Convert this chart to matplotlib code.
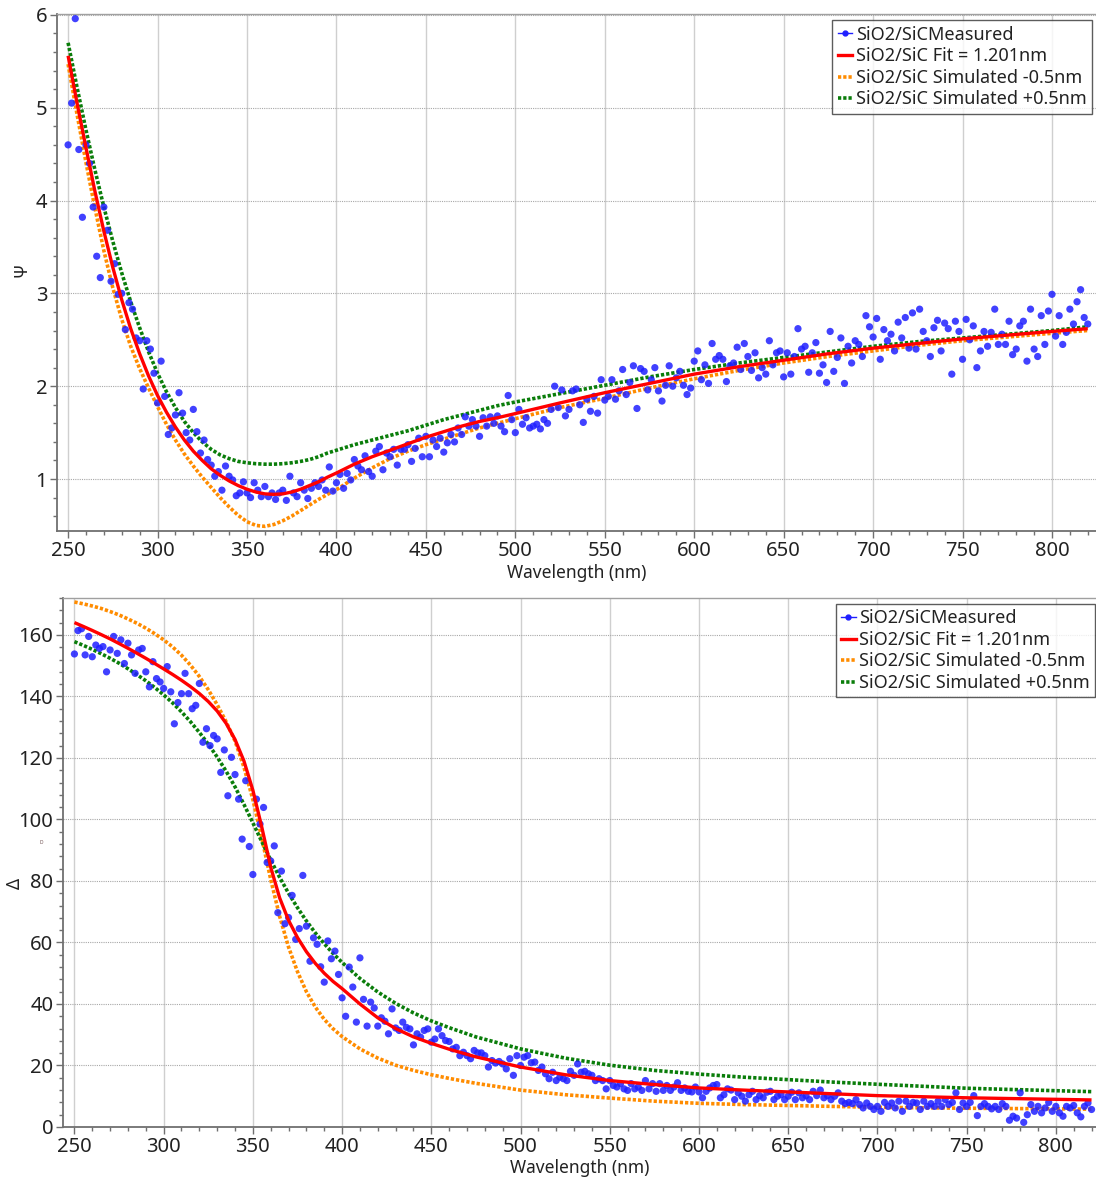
import numpy as np
import matplotlib
matplotlib.use("Agg")
import matplotlib.pyplot as plt
from matplotlib.lines import Line2D
from matplotlib.ticker import MultipleLocator

plt.rcParams['font.family'] = ['Noto Sans', 'DejaVu Sans']

# ---------------- data ----------------
meas_start, meas_step = 250, 2

psi_measured = [
    4.60, 5.05, 5.96, 4.55, 3.82, 4.60, 4.40, 3.93, 3.40, 3.17, 3.93, 3.68, 3.13, 3.32, 2.99, 3.00, 2.61, 2.90, 2.83, 2.52, 2.49, 1.97, 2.49, 2.40, 2.14,
    1.82, 2.27, 1.89, 1.48, 1.55, 1.69, 1.93, 1.71, 1.50, 1.42, 1.75, 1.51, 1.28, 1.42, 1.21, 1.15, 1.03, 1.08, 0.88, 1.14, 1.03, 0.99, 0.82, 0.85, 0.97,
    0.85, 0.80, 0.96, 0.88, 0.81, 0.92, 0.81, 0.85, 0.78, 0.85, 0.88, 0.77, 1.03, 0.85, 0.81, 0.96, 0.88, 0.79, 0.90, 0.96, 0.92, 0.99, 0.88, 1.13, 0.87,
    0.96, 1.05, 0.90, 1.06, 0.99, 1.21, 1.14, 1.10, 1.25, 1.08, 1.03, 1.30, 1.35, 1.10, 1.28, 1.24, 1.32, 1.15, 1.32, 1.32, 1.37, 1.19, 1.33, 1.44, 1.24,
    1.46, 1.24, 1.42, 1.35, 1.44, 1.29, 1.39, 1.48, 1.40, 1.55, 1.48, 1.67, 1.57, 1.64, 1.57, 1.46, 1.66, 1.57, 1.67, 1.60, 1.68, 1.57, 1.51, 1.90, 1.64,
    1.50, 1.75, 1.59, 1.66, 1.55, 1.57, 1.59, 1.54, 1.64, 1.60, 1.75, 2.00, 1.77, 1.96, 1.68, 1.75, 1.95, 1.97, 1.80, 1.61, 1.86, 1.73, 1.89, 1.71, 2.07,
    1.85, 1.89, 2.07, 1.86, 1.95, 2.18, 1.91, 2.04, 2.22, 1.76, 2.19, 2.16, 1.96, 2.07, 2.20, 1.95, 1.84, 2.01, 2.22, 2.00, 2.09, 2.16, 2.01, 1.91, 1.98,
    2.27, 2.38, 2.07, 2.23, 2.03, 2.46, 2.29, 2.33, 2.29, 2.05, 2.22, 2.25, 2.42, 2.18, 2.46, 2.32, 2.17, 2.36, 2.09, 2.20, 2.13, 2.49, 2.23, 2.36, 2.38,
    2.10, 2.36, 2.13, 2.32, 2.62, 2.40, 2.43, 2.15, 2.36, 2.47, 2.14, 2.23, 2.04, 2.59, 2.16, 2.31, 2.52, 2.03, 2.43, 2.25, 2.49, 2.45, 2.32, 2.76, 2.64,
    2.53, 2.73, 2.29, 2.61, 2.49, 2.56, 2.38, 2.69, 2.52, 2.74, 2.41, 2.79, 2.40, 2.83, 2.59, 2.49, 2.32, 2.63, 2.71, 2.38, 2.68, 2.62, 2.13, 2.70, 2.59,
    2.29, 2.72, 2.50, 2.65, 2.20, 2.38, 2.59, 2.43, 2.58, 2.83, 2.45, 2.56, 2.45, 2.70, 2.34, 2.40, 2.65, 2.70, 2.27, 2.83, 2.40, 2.32, 2.76, 2.45, 2.81,
    2.99, 2.54, 2.76, 2.45, 2.58, 2.83, 2.67, 2.91, 3.04, 2.74, 2.67,
]

delta_measured = [
    153.8, 161.4, 162.0, 153.5, 159.5, 152.9, 156.7, 155.6, 156.2, 148.0, 155.1, 159.5, 154.0, 158.4, 150.7, 157.3, 153.5, 147.5, 155.1, 155.6, 148.0, 143.1, 151.3, 145.8, 144.7,
    142.6, 149.7, 141.5, 131.1, 138.0, 140.9, 147.5, 140.9, 136.0, 137.1, 144.2, 125.1, 129.5, 124.0, 127.3, 126.2, 115.3, 122.6, 107.7, 120.2, 114.6, 106.6, 93.6, 112.6, 91.2,
    82.1, 106.6, 98.5, 103.9, 86.0, 86.5, 91.4, 69.7, 83.2, 66.1, 68.1, 75.3, 61.0, 64.5, 81.8, 65.3, 53.9, 61.5, 59.4, 52.1, 47.1, 60.5, 54.7, 57.2, 49.6,
    42.0, 36.0, 52.0, 45.5, 34.1, 55.0, 41.5, 32.8, 40.6, 38.7, 32.8, 35.5, 34.4, 30.3, 38.4, 32.2, 31.4, 34.1, 32.4, 31.9, 26.7, 30.3, 29.2, 31.4, 31.9,
    27.6, 28.6, 31.9, 29.7, 28.1, 27.8, 25.4, 25.9, 23.2, 24.3, 23.2, 22.2, 24.9, 24.1, 24.1, 23.2, 19.5, 21.6, 20.8, 21.3, 20.5, 18.9, 22.2, 16.8, 23.2,
    20.0, 22.7, 23.2, 20.9, 21.1, 18.4, 19.5, 17.3, 15.7, 17.8, 15.1, 16.2, 15.7, 15.1, 18.1, 16.8, 20.5, 17.8, 18.1, 17.3, 16.8, 15.1, 15.7, 15.1, 12.4,
    15.1, 13.5, 13.0, 14.1, 12.4, 11.9, 14.1, 12.4, 13.0, 11.9, 15.1, 12.4, 14.1, 11.6, 14.1, 11.9, 13.5, 11.9, 13.0, 14.4, 11.9, 12.7, 11.6, 11.4, 13.0,
    11.4, 9.5, 11.6, 12.7, 13.5, 13.8, 9.5, 10.5, 12.4, 12.0, 8.9, 11.1, 10.0, 8.4, 10.5, 11.6, 8.9, 10.2, 9.5, 11.3, 11.6, 8.9, 10.0, 10.5, 8.9,
    10.0, 11.3, 8.9, 11.1, 9.5, 10.2, 8.9, 11.6, 10.2, 12.0, 9.5, 10.2, 8.9, 10.0, 11.1, 8.4, 7.6, 8.0, 7.6, 8.9, 7.3, 6.2, 7.8, 6.7, 5.7,
    6.7, 5.1, 8.0, 6.7, 7.8, 6.2, 8.4, 5.1, 8.4, 6.7, 8.0, 7.8, 5.7, 8.4, 6.7, 7.6, 6.7, 8.4, 6.7, 8.9, 7.3, 8.0, 11.1, 5.7, 7.8,
    6.7, 8.0, 10.2, 3.7, 6.7, 7.6, 6.7, 5.9, 6.7, 5.7, 7.6, 6.7, 2.2, 3.5, 2.9, 11.1, 1.5, 4.0, 7.3, 5.1, 6.7, 4.6, 6.2, 8.0, 5.1,
    6.7, 4.6, 3.5, 6.7, 6.2, 7.0, 4.6, 3.3, 6.7, 7.8, 5.7,
]

psi_curve_wl = [250, 255, 260, 265, 270, 275, 280, 285, 290, 295, 300, 305, 310, 315, 320, 325, 330, 335, 340, 345,
                350, 355, 360, 365, 370, 375, 380, 385, 390, 395, 400, 410, 420, 430, 440, 450, 460, 470, 480, 490,
                500, 525, 550, 575, 600, 625, 650, 675, 700, 725, 750, 775, 800, 820]
psi_fit = [5.56, 5.05, 4.57, 4.10, 3.67, 3.28, 2.93, 2.62, 2.35, 2.11, 1.90, 1.72, 1.56, 1.42, 1.30, 1.20, 1.11, 1.04, 0.98, 0.93,
           0.89, 0.86, 0.84, 0.835, 0.84, 0.86, 0.89, 0.93, 0.97, 1.02, 1.065, 1.16, 1.24, 1.31, 1.38, 1.45, 1.51, 1.57, 1.62, 1.66,
           1.705, 1.82, 1.93, 2.03, 2.13, 2.21, 2.28, 2.35, 2.41, 2.46, 2.51, 2.55, 2.59, 2.62]
psi_sim_minus = [5.47, 4.93, 4.41, 3.92, 3.46, 3.06, 2.72, 2.43, 2.19, 1.98, 1.78, 1.59, 1.42, 1.27, 1.14, 1.02, 0.91, 0.80, 0.70, 0.61,
                 0.54, 0.50, 0.49, 0.51, 0.55, 0.60, 0.66, 0.72, 0.78, 0.835, 0.885, 1.01, 1.12, 1.22, 1.30, 1.37, 1.43, 1.49, 1.55, 1.60,
                 1.65, 1.77, 1.87, 1.98, 2.08, 2.17, 2.25, 2.32, 2.38, 2.44, 2.49, 2.53, 2.57, 2.60]
psi_sim_plus = [5.70, 5.22, 4.76, 4.33, 3.93, 3.56, 3.22, 2.91, 2.63, 2.37, 2.14, 1.94, 1.77, 1.62, 1.50, 1.40, 1.32, 1.26, 1.22, 1.19,
                1.175, 1.165, 1.16, 1.16, 1.165, 1.175, 1.19, 1.21, 1.24, 1.28, 1.31, 1.37, 1.42, 1.47, 1.52, 1.58, 1.64, 1.69, 1.74, 1.79,
                1.83, 1.92, 2.01, 2.10, 2.18, 2.25, 2.31, 2.37, 2.43, 2.48, 2.52, 2.56, 2.60, 2.64]

delta_curve_wl = [250, 255, 260, 265, 270, 275, 280, 285, 290, 295, 300, 305, 310, 315, 320, 325, 330, 335, 340, 345,
                  350, 355, 360, 365, 370, 375, 380, 385, 390, 395, 400,
                  410, 420, 430, 440, 450, 460, 475, 500, 525, 550, 575, 600, 625, 650, 675, 700, 750, 800, 820]
delta_fit = [164.0, 162.75, 161.45, 160.1, 158.7, 157.2, 155.65, 154.05, 152.4, 150.7, 148.95, 147.15, 145.25, 143.2, 140.95,
             138.35, 135.25, 131.25, 126.0, 119.0, 109.5, 97.5, 84.5, 74.5, 67.2, 61.6, 57.0, 53.2, 50.0, 47.3, 45.0,
             40.0, 35.5, 32.0, 29.3, 27.2, 25.3, 22.8, 19.5, 17.0, 15.1, 13.8, 12.7, 12.0, 11.4, 10.8, 10.2, 9.5, 9.0, 8.8]
delta_sim_minus = [170.7, 170.1, 169.4, 168.6, 167.6, 166.5, 165.2, 163.8, 162.2, 160.4, 158.4, 156.1, 153.4, 150.2, 146.5,
                   142.2, 137.3, 131.8, 125.5, 117.0, 106.5, 94.0, 80.5, 68.5, 58.5, 50.5, 44.0, 39.0, 35.0, 31.9, 29.4,
                   25.4, 22.4, 20.1, 18.4, 17.0, 15.8, 14.2, 12.0, 10.5, 9.4, 8.4, 7.7, 7.3, 7.0, 6.7, 6.4, 6.1, 5.9, 5.8]
delta_sim_plus = [157.8, 156.6, 155.3, 153.9, 152.4, 150.8, 149.0, 147.1, 145.1, 142.9, 140.5, 137.9, 135.0, 131.8, 128.3,
                  124.5, 120.3, 115.7, 110.6, 104.9, 98.9, 92.8, 86.8, 81.2, 76.0, 71.3, 67.0, 63.1, 59.6, 56.4, 53.5,
                  48.3, 43.9, 40.2, 37.1, 34.5, 32.3, 29.3, 25.4, 22.4, 20.1, 18.4, 17.2, 16.2, 15.4, 14.6, 13.9, 12.6, 11.8, 11.5]

labels = ['SiO2/SiCMeasured', 'SiO2/SiC Fit = 1.201nm',
          'SiO2/SiC Simulated -0.5nm', 'SiO2/SiC Simulated +0.5nm']

# ---------------- style ----------------
C_MEAS = '#1f1fff'
C_FIT = '#ff0000'
C_MINUS = '#ff8c00'
C_PLUS = '#0a7d0a'
TXT = '#222222'
FS_TICK = 14.5
FS_LEG = 13
FS_LAB = 12.5

W, H = 1096, 1182
fig = plt.figure(figsize=(W / 100, H / 100), dpi=100)


def frac(l, t, r, b):
    return [l / W, 1 - b / H, (r - l) / W, (b - t) / H]


ax1 = fig.add_axes(frac(57, 14, 1096, 531))
ax2 = fig.add_axes(frac(63, 598, 1096, 1127))

dot = (0, (0.9, 0.55))


def draw(ax, meas, cwl, fit, minus, plus):
    wl = meas_start + meas_step * np.arange(len(meas))
    ax.plot(cwl, minus, color=C_MINUS, lw=2.6, ls=dot, zorder=2)
    ax.plot(cwl, plus, color=C_PLUS, lw=2.6, ls=dot, zorder=2)
    ax.scatter(wl, meas, s=27, color=C_MEAS, alpha=0.85, edgecolors='none', zorder=3)
    ax.plot(cwl, fit, color=C_FIT, lw=2.4, zorder=4, solid_capstyle='butt', solid_joinstyle='round')


draw(ax1, psi_measured, psi_curve_wl, psi_fit, psi_sim_minus, psi_sim_plus)
draw(ax2, delta_measured, delta_curve_wl, delta_fit, delta_sim_minus, delta_sim_plus)

ax1.set_xlim(243.8, 824.6)
ax1.set_ylim(0.44, 6.01)
ax1.yaxis.set_major_locator(MultipleLocator(1))
ax1.yaxis.set_minor_locator(MultipleLocator(0.2))

ax2.set_xlim(243.6, 822.5)
ax2.set_ylim(0, 172)
ax2.yaxis.set_major_locator(MultipleLocator(20))
ax2.yaxis.set_minor_locator(MultipleLocator(4))

for ax in (ax1, ax2):
    ax.xaxis.set_major_locator(MultipleLocator(50))
    ax.xaxis.set_minor_locator(MultipleLocator(10))
    ax.set_axisbelow(True)
    ax.grid(True, axis='x', which='major', color='#cfcfcf', lw=1.0, ls='-')
    ax.grid(True, axis='y', which='major', color='#a8a8a8', lw=0.8, ls=(0, (1, 1)))
    for s in ('left', 'bottom'):
        ax.spines[s].set_color('#707070')
        ax.spines[s].set_linewidth(1.3)
    ax.spines['top'].set_color('#a0a0a0')
    ax.spines['top'].set_linewidth(1.0)
    ax.spines['right'].set_visible(False)
    ax.tick_params(which='major', direction='out', length=5, width=1, color='#707070',
                   labelsize=FS_TICK, labelcolor=TXT, pad=2)
    ax.tick_params(which='minor', direction='out', length=3, width=1, color='#707070')
    handles = [
        Line2D([], [], color=C_MEAS, lw=1, marker='o', markersize=3.5),
        Line2D([], [], color=C_FIT, lw=2.4),
        Line2D([], [], color=C_MINUS, lw=2.6, ls=dot),
        Line2D([], [], color=C_PLUS, lw=2.6, ls=dot),
    ]
    leg = ax.legend(handles, labels, loc='upper right', fontsize=FS_LEG,
                    handlelength=0.8, handletextpad=0.2, labelspacing=0.2,
                    borderpad=0.3, borderaxespad=0.0, frameon=True, fancybox=False,
                    bbox_to_anchor=(0.996, 0.988) if ax is ax1 else (0.9995, 0.989))
    leg.get_frame().set_edgecolor('#333333')
    leg.get_frame().set_linewidth(1.0)
    for t in leg.get_texts():
        t.set_color(TXT)

fig.text(577 / W, 1 - 573 / H, 'Wavelength (nm)', ha='center', va='center', fontsize=FS_LAB, color=TXT)
fig.text(580 / W, 1 - 1168 / H, 'Wavelength (nm)', ha='center', va='center', fontsize=FS_LAB, color=TXT)
fig.text(22 / W, 1 - 270 / H, 'Ψ', ha='center', va='center', fontsize=FS_LAB, color=TXT, rotation=90)
fig.text(15 / W, 1 - 883 / H, 'Δ', ha='center', va='center', fontsize=FS_LAB, color=TXT, rotation=90)
fig.text(41 / W, 1 - 843 / H, 'D', ha='center', va='center', fontsize=3.5, color='#6a4a4a')

fig.savefig('out.png', dpi=100)
